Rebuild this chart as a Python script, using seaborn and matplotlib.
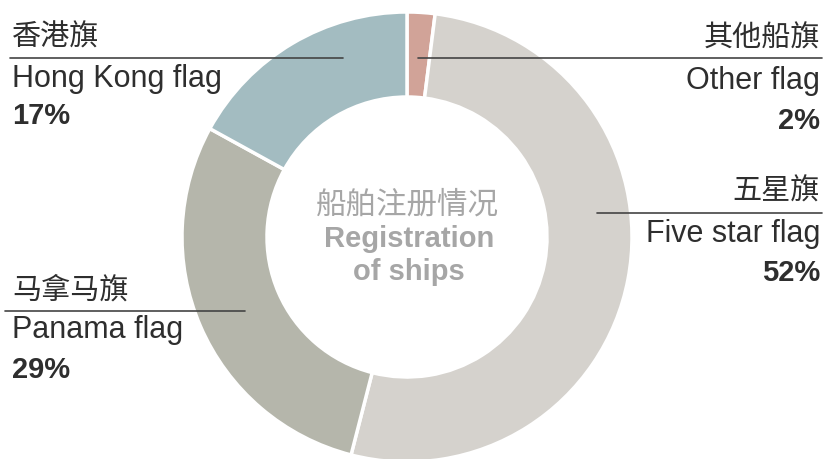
import matplotlib
matplotlib.use("Agg")
import matplotlib.pyplot as plt
import seaborn as sns

# Dados
labels_cn = ['其他船旗', '五星旗', '马拿马旗', '香港旗']
labels_en = ['Other flag', 'Five star flag', 'Panama flag', 'Hong Kong flag']
shares = [2, 52, 29, 17]
colors = ['#d1a398', '#d5d2cd', '#b5b6ab', '#a3bcc1']

title_cn = '船舶注册情况'
title_en = ['Registration', 'of ships']

# Estilo
sns.set_theme(style="white")
plt.rcParams['font.family'] = ['Liberation Sans', 'Noto Sans CJK SC', 'DejaVu Sans']
cjk = ['Noto Sans CJK SC', 'DejaVu Sans']

fig = plt.figure(figsize=(8.24, 4.59), dpi=100)
ax = fig.add_axes([0, 0, 1, 1])

# Donut (coordenadas em pixels, eixo y invertido)
cx, cy, r_out, ring = 407, 237, 225, 85
ax.pie(shares, colors=sns.color_palette(colors), center=(cx, cy), radius=r_out,
       startangle=-90, counterclock=True,
       wedgeprops=dict(width=ring, edgecolor='white', linewidth=2.5))
ax.set_xlim(0, 824)
ax.set_ylim(459, 0)
ax.set_aspect('auto')
ax.axis('off')

# Rótulos: (x, alinhamento, y_cn, y_linha, x_linha, y_en, y_pct)
layout = [
    (820, 'right', 39, 58, (418, 822), 89, 129),
    (820, 'right', 192, 213, (597, 822), 242, 281),
    (12, 'left', 291, 311, (5, 245), 338, 378),
    (12, 'left', 38, 58, (10, 343), 87, 124),
]
dark = '#2e2e2e'
for cn, en, v, (x, ha, y_cn, y_ln, xs, y_en, y_pct) in zip(labels_cn, labels_en, shares, layout):
    ax.text(x, y_cn, cn, ha=ha, va='center', fontsize=21, color=dark, family=cjk, fontweight='light')
    ax.plot(xs, [y_ln, y_ln], color='#444444', lw=1.2)
    ax.text(x, y_en, en, ha=ha, va='baseline', fontsize=22, color=dark)
    ax.text(x, y_pct, f"{v}%", ha=ha, va='baseline', fontsize=21, color=dark, fontweight='bold')

# Texto central
grey = '#a6a6a6'
ax.text(407, 205, title_cn, ha='center', va='center', fontsize=22, color=grey, family=cjk, fontweight='light')
ax.text(409, 247, title_en[0], ha='center', va='baseline', fontsize=21, color=grey, fontweight='bold')
ax.text(409, 280, title_en[1], ha='center', va='baseline', fontsize=21, color=grey, fontweight='bold')

plt.savefig("out.png", dpi=100)
